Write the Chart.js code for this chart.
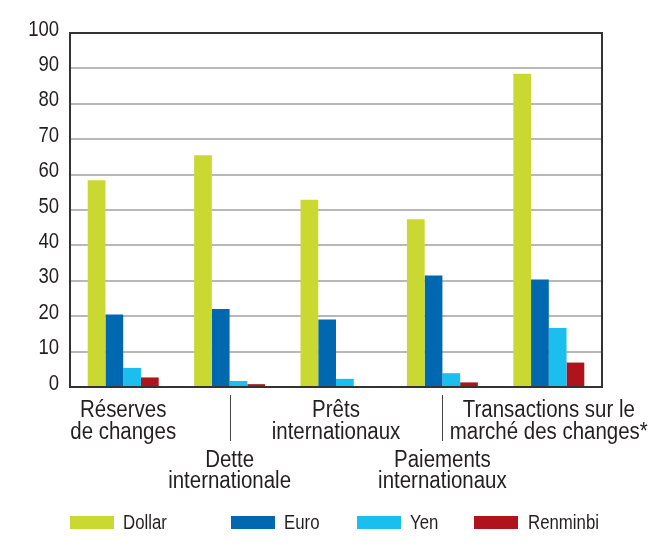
<!DOCTYPE html>
<html>
<head>
<meta charset="utf-8">
<script src="https://cdn.jsdelivr.net/npm/chart.js@4/dist/chart.umd.min.js"></script>
<style>
  html, body { margin: 0; padding: 0; background: #fff; }
  #wrap { width: 667px; height: 553px; position: relative; }
</style>
</head>
<body>
<div id="wrap"><canvas id="c" width="667" height="553"></canvas></div>
<script>
const categories = [
  ["Réserves", "de changes"],
  ["Dette", "internationale"],
  ["Prêts", "internationaux"],
  ["Paiements", "internationaux"],
  ["Transactions sur le", "marché des changes*"]
];
const seriesNames = ["Dollar", "Euro", "Yen", "Renminbi"];
const dollarValues = [58.4, 65.5, 52.9, 47.4, 88.5];
const euroValues = [20.5, 22.0, 19.1, 31.5, 30.4];
const yenValues = [5.4, 1.7, 2.3, 3.9, 16.7];
const renminbiValues = [2.7, 0.8, 0, 1.3, 6.9];
const yTicks = [0, 10, 20, 30, 40, 50, 60, 70, 80, 90, 100];

const colors = ["#C9D932", "#0067B1", "#1BBFEF", "#AF141C"];
const FONT = '"Liberation Sans", Arial, sans-serif';
const TEXT = '#231f20';

function narrowText(ctx, t, x, y, size, sx, align) {
  ctx.save();
  ctx.translate(x, y);
  ctx.scale(sx, 1);
  ctx.font = size + 'px ' + FONT;
  ctx.textAlign = align;
  ctx.textBaseline = 'alphabetic';
  ctx.fillStyle = TEXT;
  ctx.fillText(t, 0, 0);
  ctx.restore();
}

const labelPlugin = {
  id: 'customLabels',
  afterDraw(chart) {
    const ctx = chart.ctx;
    const x = chart.scales.x;
    const y = chart.scales.y;
    const a = chart.chartArea;
    ctx.save();
    // plot frame
    ctx.strokeStyle = '#333';
    ctx.lineWidth = 2;
    ctx.strokeRect(a.left, a.top, a.right - a.left, a.bottom - a.top);
    // y tick labels
    y.ticks.forEach(t => {
      narrowText(ctx, String(t.value), 59, y.getPixelForValue(t.value) + 2.5, 21.5, 0.86, 'right');
    });
    // category labels (staggered)
    categories.forEach((lines, i) => {
      const cx = x.getPixelForValue(i);
      const low = i % 2 === 1;
      const base = low ? 467 : 417;
      const gap = low ? 20.5 : 21.5;
      lines.forEach((t, k) => narrowText(ctx, t, cx, base + k * gap, 23, 0.89, 'center'));
      if (low) {
        ctx.strokeStyle = '#444';
        ctx.lineWidth = 1;
        ctx.beginPath();
        ctx.moveTo(Math.round(cx) + 0.5, a.bottom + 8);
        ctx.lineTo(Math.round(cx) + 0.5, a.bottom + 54);
        ctx.stroke();
      }
    });
    // legend
    const boxX = [70, 231, 357, 474];
    const textX = [123, 284, 410, 528];
    seriesNames.forEach((n, i) => {
      ctx.fillStyle = colors[i];
      ctx.fillRect(boxX[i], 516, 44, 13);
      narrowText(ctx, n, textX[i], 529, 20, 0.84, 'left');
    });
    ctx.restore();
  }
};

new Chart(document.getElementById('c'), {
  type: 'bar',
  data: {
    labels: categories.map(c => c.join(' ')),
    datasets: [
      { label: seriesNames[0], data: dollarValues, backgroundColor: colors[0] },
      { label: seriesNames[1], data: euroValues, backgroundColor: colors[1] },
      { label: seriesNames[2], data: yenValues, backgroundColor: colors[2] },
      { label: seriesNames[3], data: renminbiValues, backgroundColor: colors[3] }
    ]
  },
  options: {
    responsive: false,
    animation: false,
    devicePixelRatio: 1,
    layout: { padding: { top: 33, right: 65, bottom: 0, left: 0 } },
    datasets: { bar: { categoryPercentage: 0.667, barPercentage: 1.0, borderWidth: 0 } },
    plugins: { legend: { display: false }, tooltip: { enabled: false } },
    scales: {
      x: {
        ticks: { display: false },
        grid: { display: false },
        border: { display: false },
        afterFit(s) { s.height = 166; }
      },
      y: {
        min: 0, max: 100,
        afterBuildTicks(s) { s.ticks = yTicks.map(v => ({ value: v })); },
        ticks: { display: false },
        grid: { color: '#b8b8b8', lineWidth: 2, drawTicks: false },
        border: { color: '#333', width: 2 },
        afterFit(s) { s.width = 70; }
      }
    }
  },
  plugins: [labelPlugin]
});
</script>
</body>
</html>
